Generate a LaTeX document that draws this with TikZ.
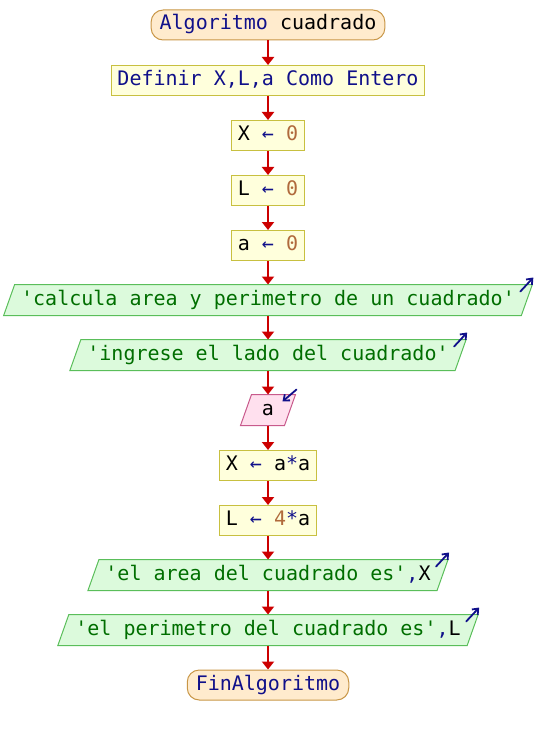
\documentclass[tikz,border=0pt]{standalone}
\usepackage{fontspec}
\newfontfamily\psf{DejaVu Sans Mono}
\usetikzlibrary{arrows.meta,calc}
\pgfdeclarelayer{background}
\pgfsetlayers{background,main}
\definecolor{kw}{HTML}{10108A}
\definecolor{num}{HTML}{B06A3C}
\definecolor{str}{HTML}{006E00}
\definecolor{flowred}{HTML}{CC0000}
\definecolor{termfill}{HTML}{FFEBCD}
\definecolor{termline}{HTML}{C89646}
\definecolor{procfill}{HTML}{FFFFDC}
\definecolor{procline}{HTML}{C8C040}
\definecolor{outfill}{HTML}{DCFADC}
\definecolor{outline}{HTML}{5ABE5A}
\definecolor{infill}{HTML}{FFE0EE}
\definecolor{inline}{HTML}{C85A8C}
\tikzset{
  base/.style={font=\psf\fontsize{20}{24}\selectfont, text height=15pt, text depth=5pt,
    inner ysep=5pt, minimum height=30pt, line width=1pt},
  term/.style={base, draw=termline, fill=termfill, rounded corners=12pt, inner xsep=8.5pt},
  proc/.style={base, draw=procline, fill=procfill, inner xsep=6pt},
  io/.style={base, inner xsep=11.5pt},
  flow/.style={draw=flowred, line width=2.5pt, -{Triangle[width=12pt,length=8pt]}},
  outshape/.style={draw=outline, fill=outfill, line width=1pt},
  inshape/.style={draw=inline, fill=infill, line width=1pt},
  icon/.style={draw=kw, line width=1.8pt, line cap=round, -{Straight Barb[length=5pt,width=8pt]}},
}
\newcommand\slantbox[2]{%
  \path[#2] ($(#1.south west)+(-5.5,0)$) -- ($(#1.south east)+(-5.5,0)$)
    -- ($(#1.north east)+(5.5,0)$) -- ($(#1.north west)+(5.5,0)$) -- cycle;}
\begin{document}
\begin{tikzpicture}[x=1pt,y=-1pt]
\useasboundingbox (0,0) rectangle (536,735);
\node[term] (n1) at (268,25) {\textcolor{kw}{Algoritmo} cuadrado};
\node[proc] (n2) at (268,80.5) {\textcolor{kw}{Definir X,L,a Como Entero}};
\node[proc] (n3) at (268,135.5) {X \textcolor{kw}{←} \textcolor{num}{0}};
\node[proc] (n4) at (268,190.5) {L \textcolor{kw}{←} \textcolor{num}{0}};
\node[proc] (n5) at (268,245.5) {a \textcolor{kw}{←} \textcolor{num}{0}};
\node[io] (n6) at (268,300) {\textcolor{str}{'calcula area y perimetro de un cuadrado'}};
\node[io] (n7) at (268,355) {\textcolor{str}{'ingrese el lado del cuadrado'}};
\node[io, minimum width=43pt] (n8) at (268,410) {a};
\node[proc] (n9) at (268,465.5) {X \textcolor{kw}{←} a\textcolor{kw}{*}a};
\node[proc] (n10) at (268,520.5) {L \textcolor{kw}{←} \textcolor{num}{4}\textcolor{kw}{*}a};
\node[io] (n11) at (268,575) {\textcolor{str}{'el area del cuadrado es'}\textcolor{kw}{,}X};
\node[io] (n12) at (268,630) {\textcolor{str}{'el perimetro del cuadrado es'}\textcolor{kw}{,}L};
\node[term] (n13) at (268,685) {\textcolor{kw}{FinAlgoritmo}};
\begin{pgfonlayer}{background}
\slantbox{n6}{outshape}
\slantbox{n7}{outshape}
\slantbox{n8}{inshape}
\slantbox{n11}{outshape}
\slantbox{n12}{outshape}
\end{pgfonlayer}
\foreach \o in {n6,n7,n11,n12}{
  \draw[icon] ($(\o.north east)+(5.5,0)+(-12,7)$) -- ($(\o.north east)+(5.5,0)+(1,-7)$);
}
\draw[icon] ($(n8.north east)+(5.5,0)+(1,-5)$) -- ($(n8.north east)+(5.5,0)+(-13,7)$);
\foreach \a/\b in {n1/n2,n2/n3,n3/n4,n4/n5,n5/n6,n6/n7,n7/n8,n8/n9,n9/n10,n10/n11,n11/n12,n12/n13}{
  \draw[flow] (\a.south) -- (\b.north);
}
\end{tikzpicture}
\end{document}
